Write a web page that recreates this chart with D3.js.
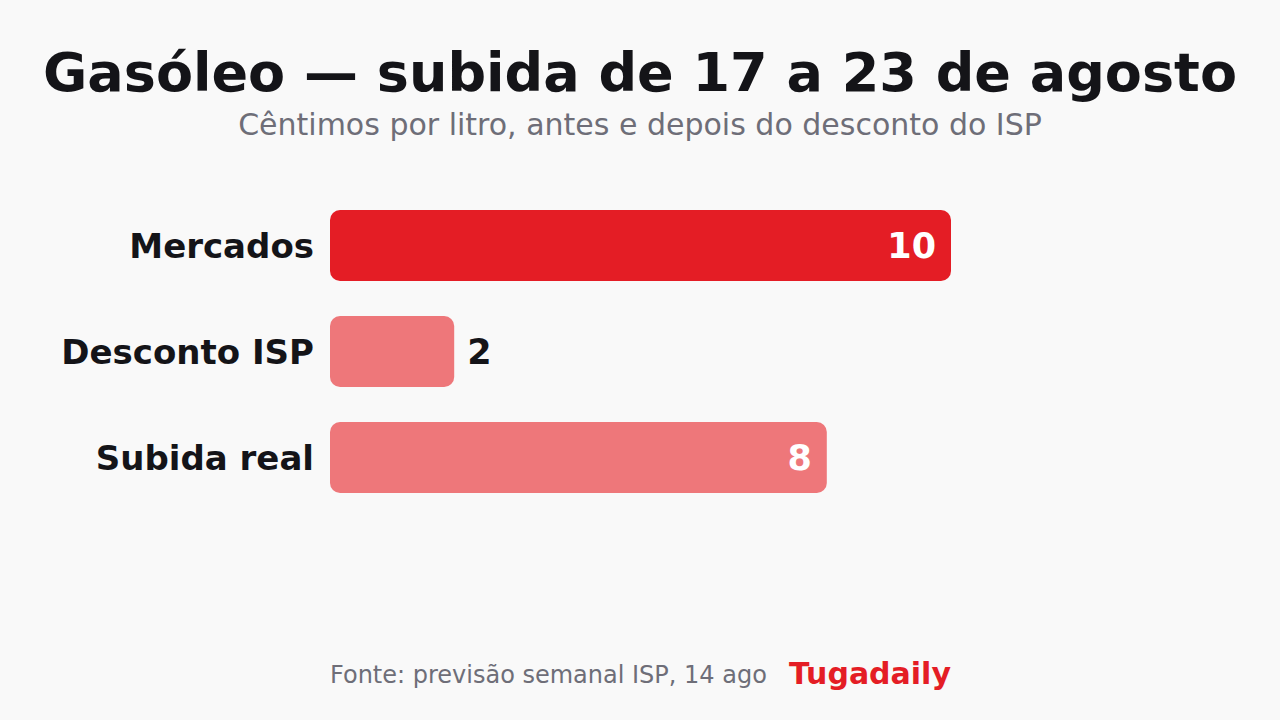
<!DOCTYPE html>
<html>
<head>
<meta charset="utf-8">
<script src="https://cdn.jsdelivr.net/npm/d3@7"></script>
<style>
  html, body { margin: 0; padding: 0; background: #f9f9f9; }
  svg { display: block; font-family: "DejaVu Sans", sans-serif; }
</style>
</head>
<body>
<div id="chart"></div>
<script>
// data
let categories = ["Mercados", "Desconto ISP", "Subida real"];
let values = [10, 2, 8];
let barColors = ["#e41d25", "#ee777a", "#ee777a"];

let title = "Gasóleo — subida de 17 a 23 de agosto";
let subtitle = "Cêntimos por litro, antes e depois do desconto do ISP";
let source = "Fonte: previsão semanal ISP, 14 ago";
let brand = "Tugadaily";

let w = 1280, h = 720;

let svg = d3.select("#chart")
    .append("svg")
    .attr("width", w)
    .attr("height", h);

svg.append("rect")
    .attr("width", w)
    .attr("height", h)
    .attr("fill", "#f9f9f9");

svg.append("text")
    .attr("x", w / 2)
    .attr("y", 91)
    .attr("text-anchor", "middle")
    .attr("font-size", 54)
    .attr("font-weight", "bold")
    .attr("fill", "#141418")
    .text(title);

svg.append("text")
    .attr("x", w / 2)
    .attr("y", 135)
    .attr("text-anchor", "middle")
    .attr("font-size", 30)
    .attr("fill", "#6e6e78")
    .text(subtitle);

let xScale = d3.scaleLinear()
    .domain([0, 10])
    .range([330, 951]);

let yScale = d3.scaleBand()
    .domain(categories)
    .range([192.5, 510.5])
    .paddingInner(0.33)
    .paddingOuter(0.165);

let data = categories.map((c, i) => ({name: c, value: values[i], color: barColors[i]}));

let inside = d => xScale(d.value) - xScale(0) > 150;

let g = svg.selectAll("g.bar")
    .data(data)
    .enter()
    .append("g")
    .attr("class", "bar");

g.append("rect")
    .attr("x", xScale(0))
    .attr("y", d => yScale(d.name))
    .attr("width", d => xScale(d.value) - xScale(0))
    .attr("height", yScale.bandwidth())
    .attr("rx", 10)
    .attr("fill", d => d.color);

g.append("text")
    .attr("x", xScale(0) - 16)
    .attr("y", d => yScale(d.name) + yScale.bandwidth() / 2)
    .attr("dy", "0.36em")
    .attr("text-anchor", "end")
    .attr("font-size", 34)
    .attr("font-weight", "bold")
    .attr("fill", "#141418")
    .text(d => d.name);

// value labels: inside when the bar is wide enough, else outside
g.append("text")
    .attr("x", d => inside(d) ? xScale(d.value) - 15 : xScale(d.value) + 13)
    .attr("y", d => yScale(d.name) + yScale.bandwidth() / 2)
    .attr("dy", "0.36em")
    .attr("text-anchor", d => inside(d) ? "end" : "start")
    .attr("font-size", 35)
    .attr("font-weight", "bold")
    .attr("fill", d => inside(d) ? "#ffffff" : "#141418")
    .text(d => d.value);

let src = svg.append("text")
    .attr("x", 330)
    .attr("y", 683)
    .attr("font-size", 24)
    .attr("fill", "#6e6e78")
    .text(source);

svg.append("text")
    .attr("x", 330 + src.node().getComputedTextLength() + 22)
    .attr("y", 684)
    .attr("font-size", 30)
    .attr("font-weight", "bold")
    .attr("fill", "#e41d25")
    .text(brand);
</script>
</body>
</html>
